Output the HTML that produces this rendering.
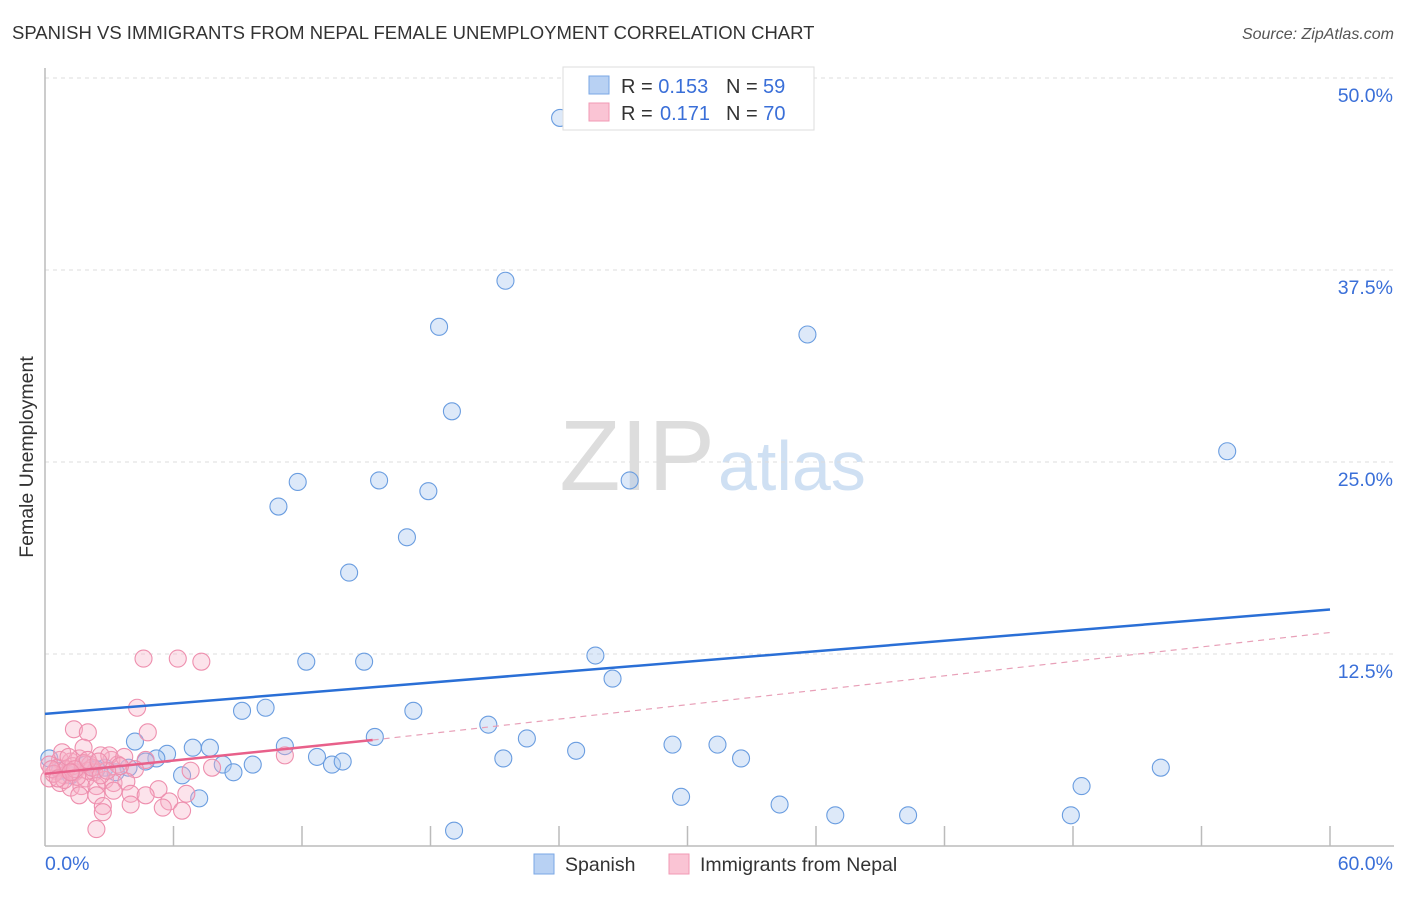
<!DOCTYPE html>
<html><head><meta charset="utf-8"><style>
body{margin:0;background:#fff;font-family:"Liberation Sans",sans-serif;}
svg text{font-family:"Liberation Sans",sans-serif;}
</style></head><body>
<svg id="chart" width="1406" height="892">
<text x="12" y="39" font-size="18.5" fill="#333">SPANISH VS IMMIGRANTS FROM NEPAL FEMALE UNEMPLOYMENT CORRELATION CHART</text>
<text x="1394" y="39" font-size="16" fill="#555" font-style="italic" text-anchor="end">Source: ZipAtlas.com</text>
<text x="715" y="490" font-size="100" fill="#ddd" text-anchor="end" font-family="Liberation Serif">ZIP</text>
<text x="718" y="490" font-size="70" fill="#cfe0f3">atlas</text>
<text transform="translate(33,457) rotate(-90)" font-size="19.5" fill="#333" text-anchor="middle">Female Unemployment</text>
<g id="grid"></g><g id="pts"></g><g id="lines"></g>
<g>
<rect x="563" y="67" width="251" height="63" fill="#fff" stroke="#ddd"/>
<rect x="589" y="76" width="20" height="18" fill="#b8d1f3" stroke="#7aa7e6"/>
<rect x="589" y="103" width="20" height="18" fill="#fac4d4" stroke="#f29ab5"/>
<text x="621" y="93" font-size="20" fill="#333">R = <tspan fill="#3a6fd8">0.153</tspan><tspan x="726">N = </tspan><tspan fill="#3a6fd8" x="763">59</tspan></text>
<text x="621" y="120" font-size="20" fill="#333">R = <tspan fill="#3a6fd8" x="660">0.171</tspan><tspan x="726">N = </tspan><tspan fill="#3a6fd8">70</tspan></text>
</g>
<g>
<rect x="534" y="854" width="20" height="20" fill="#b8d1f3" stroke="#7aa7e6"/>
<text x="565" y="871" font-size="19.5" fill="#333">Spanish</text>
<rect x="669" y="854" width="20" height="20" fill="#fac4d4" stroke="#f29ab5"/>
<text x="700" y="871" font-size="19.5" fill="#333">Immigrants from Nepal</text>
</g>
</svg>
<script>
const yTicks=[12.5,25,37.5,50];
const yTickLabels=["12.5%","25.0%","37.5%","50.0%"];
const xTickLabels=["0.0%","60.0%"];
const spanishX=[24.05,21.5,18.4,35.6,19.0,55.2,11.8,15.6,27.3,17.9,10.9,16.9,14.2,12.2,14.9,25.7,26.5,9.2,10.3,17.2,20.7,15.4,22.5,4.2,6.9,7.7,11.2,29.3,31.4,24.8,5.7,5.2,4.7,12.7,21.4,32.5,9.7,8.3,13.4,13.9,3.9,2.8,52.1,3.3,8.8,6.4,48.4,7.2,29.7,34.3,36.9,40.3,47.9,19.1,0.2,0.7,1.9,1.2,2.4];
const spanishY=[47.4,36.8,33.8,33.3,28.3,25.7,23.7,23.8,23.8,23.1,22.1,20.1,17.8,12.0,12.0,12.4,10.9,8.8,9.0,8.8,7.9,7.1,7.0,6.8,6.4,6.4,6.5,6.6,6.6,6.2,6.0,5.7,5.5,5.8,5.7,5.7,5.3,5.3,5.3,5.5,5.1,5.1,5.1,4.8,4.8,4.6,3.9,3.1,3.2,2.7,2.0,2.0,2.0,1.0,5.7,4.9,5.3,4.6,5.0];
const nepalX=[4.6,6.2,7.3,4.3,1.35,2.0,4.8,4.7,11.2,3.1,4.2,6.8,7.8,2.6,0.7,1.2,1.6,2.1,0.5,0.9,1.4,1.9,2.3,2.8,0.2,0.7,1.2,1.7,2.4,3.2,3.8,5.3,6.6,1.6,2.4,3.2,4.0,4.7,5.8,2.7,2.7,4.0,5.5,6.4,2.4,0.2,0.6,1.3,2.0,3.4,1.8,3.0,0.8,3.7,1.0,1.5,2.2,0.4,1.1,2.6,3.5,0.3,1.8,2.9,0.9,1.4,2.0,0.6,1.2,2.5];
const nepalY=[12.2,12.2,12.0,9.0,7.6,7.4,7.4,5.6,5.9,5.6,5.0,4.9,5.1,5.9,5.6,5.5,5.7,5.3,4.9,4.6,4.8,4.4,4.8,4.3,4.4,4.1,3.8,3.9,3.9,4.1,4.2,3.7,3.4,3.3,3.3,3.6,3.4,3.3,2.9,2.6,2.2,2.7,2.5,2.3,1.1,5.3,5.1,5.2,4.9,5.3,6.4,5.9,6.1,5.8,5.0,4.5,5.1,4.7,5.8,4.6,5.2,5.0,5.4,4.9,4.3,5.0,5.6,4.4,4.8,5.5];
const blueLine=[0,8.6,60,15.4];
const pinkLine=[0,4.7,15.3,6.9,60,13.9];
const NS="http://www.w3.org/2000/svg";
const X0=45,X1=1330,Y0=846,PX=192/12.5;
function sx(v){return X0+(v/60)*(X1-X0);}
function sy(v){return Y0-v*PX;}
function mk(t,a,p){const e=document.createElementNS(NS,t);for(const k in a)e.setAttribute(k,a[k]);p.appendChild(e);return e;}
const grid=document.getElementById('grid');
yTicks.forEach((t,i)=>{
 const l=mk('line',{x1:X0,x2:1394,y1:sy(t),y2:sy(t),stroke:'#ddd','stroke-dasharray':'4,4'},grid);
 
 
 const tx=mk('text',{x:1393,y:sy(t)+24,'font-size':19.5,fill:'#3a6fd8','text-anchor':'end'},grid);
 tx.textContent=yTickLabels[i];
 
 
});
mk('line',{x1:X0,x2:X0,y1:68,y2:Y0,stroke:'#bbb','stroke-width':1.5},grid);
mk('line',{x1:X0,x2:1394,y1:Y0,y2:Y0,stroke:'#bbb','stroke-width':1.5},grid);
for(let i=1;i<=10;i++){const t=mk('line',{x1:sx(i*6),x2:sx(i*6),y1:826,y2:Y0,stroke:'#bbb','stroke-width':1.5},grid);
 
 }
const xl0=mk('text',{x:45,y:870,'font-size':19.5,fill:'#3a6fd8'},grid);xl0.textContent=xTickLabels[0];


const xl1=mk('text',{x:1393,y:870,'font-size':19.5,fill:'#3a6fd8','text-anchor':'end'},grid);xl1.textContent=xTickLabels[1];


const pts=document.getElementById('pts');
spanishX.forEach((v,i)=>{const c=mk('circle',{cx:sx(v),cy:sy(spanishY[i]),r:8.5,fill:'rgba(170,200,240,0.4)',stroke:'#6a9de0','stroke-width':1.1},pts);
 
 });
nepalX.forEach((v,i)=>{const c=mk('circle',{cx:sx(v),cy:sy(nepalY[i]),r:8.5,fill:'rgba(245,175,198,0.35)',stroke:'#ee8fae','stroke-width':1.1},pts);
 
 });
const ln=document.getElementById('lines');
const bl=mk('line',{x1:sx(blueLine[0]),y1:sy(blueLine[1]),x2:sx(blueLine[2]),y2:sy(blueLine[3]),stroke:'#2a6fd6','stroke-width':2.5},ln);


const pl=mk('line',{x1:sx(pinkLine[0]),y1:sy(pinkLine[1]),x2:sx(pinkLine[2]),y2:sy(pinkLine[3]),stroke:'#e8608a','stroke-width':2.5},ln);


const pd=mk('line',{x1:sx(pinkLine[2]),y1:sy(pinkLine[3]),x2:sx(pinkLine[4]),y2:sy(pinkLine[5]),stroke:'#e8a0b8','stroke-width':1.2,'stroke-dasharray':'6,5'},ln);


</script>
</body></html>
